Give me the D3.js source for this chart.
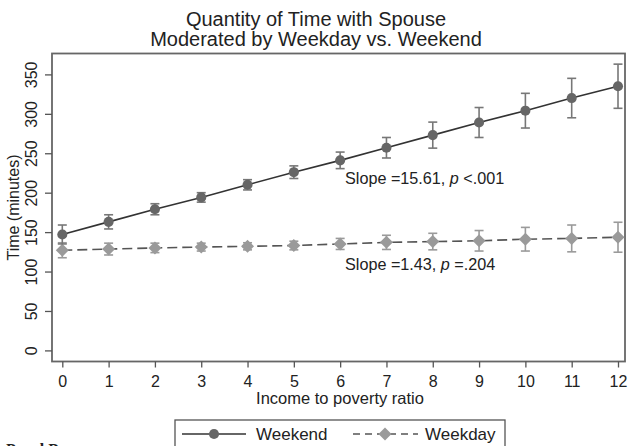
<!DOCTYPE html>
<html>
<head>
<meta charset="utf-8">
<script src="https://cdn.jsdelivr.net/npm/d3@7"></script>
<style>
  body { margin: 0; background: #fff; }
  svg { display: block; }
  text { font-family: "Liberation Sans", Arial, sans-serif; fill: #222; }
</style>
</head>
<body>
<script>
  // income-to-poverty ratio values
  const ratios = [0, 1, 2, 3, 4, 5, 6, 7, 8, 9, 10, 11, 12];

  // predicted minutes with spouse
  const weekend    = [147, 163, 179, 194, 210, 226, 241, 257, 273, 289, 304, 320, 335];
  const weekendErr = [12, 9, 7, 6, 6.5, 8, 10.5, 13, 16.5, 19, 22, 25, 28];
  const weekday    = [127, 128.5, 130, 131, 132, 133, 135, 137, 138, 139, 141, 142, 143.5];
  const weekdayErr = [9.5, 7.5, 6, 5, 4.5, 5.5, 7, 9, 10.5, 13, 15, 17, 19];

  const yTicks = [0, 50, 100, 150, 200, 250, 300, 350];

  const W = 629, H = 446;
  const frame = { left: 52, top: 53.5, right: 625, bottom: 361.5 };

  const x = d3.scaleLinear().domain([0, 12]).range([62.3, 618]);
  const y = d3.scaleLinear().domain([0, 350]).range([350.4, 74.4]);

  const svg = d3.select("body").append("svg")
    .attr("width", W)
    .attr("height", H);

  // title, two tight lines
  svg.append("text")
    .attr("x", 316).attr("y", 26)
    .attr("text-anchor", "middle")
    .style("font-size", "20px")
    .text("Quantity of Time with Spouse");
  svg.append("text")
    .attr("x", 316).attr("y", 46)
    .attr("text-anchor", "middle")
    .style("font-size", "20px")
    .text("Moderated by Weekday vs. Weekend");

  // plot frame
  svg.append("rect")
    .attr("x", frame.left).attr("y", frame.top)
    .attr("width", frame.right - frame.left)
    .attr("height", frame.bottom - frame.top)
    .attr("fill", "none")
    .attr("stroke", "#666")
    .attr("stroke-width", 1.8);

  // x axis
  const xAxis = svg.append("g")
    .attr("transform", `translate(0, ${frame.bottom})`)
    .call(d3.axisBottom(x).tickValues(ratios).tickSize(6).tickPadding(8).tickFormat(d3.format("d")));
  xAxis.select(".domain").remove();
  xAxis.selectAll("line").attr("stroke", "#555").attr("stroke-width", 1.3);
  xAxis.selectAll("text")
    .style("font-size", "16px")
    .style("font-family", "Liberation Sans, Arial, sans-serif")
    .attr("fill", "#222");

  // y axis (labels rotated like Stata)
  const yAxis = svg.append("g")
    .attr("transform", `translate(${frame.left}, 0)`)
    .call(d3.axisLeft(y).tickValues(yTicks).tickSize(7).tickFormat(d3.format("d")));
  yAxis.select(".domain").remove();
  yAxis.selectAll("line").attr("stroke", "#555").attr("stroke-width", 1.3);
  yAxis.selectAll("text")
    .attr("x", null).attr("dy", null)
    .attr("transform", "translate(-19, 0) rotate(-90)")
    .attr("text-anchor", "middle")
    .attr("dominant-baseline", "middle")
    .style("font-size", "16px")
    .style("font-family", "Liberation Sans, Arial, sans-serif")
    .attr("fill", "#222");

  // axis titles
  svg.append("text")
    .attr("transform", `translate(15, ${(frame.top + frame.bottom) / 2}) rotate(-90)`)
    .attr("text-anchor", "middle")
    .attr("dominant-baseline", "middle")
    .style("font-size", "16px")
    .text("Time (minutes)");
  svg.append("text")
    .attr("x", 340).attr("y", 404)
    .attr("text-anchor", "middle")
    .style("font-size", "16.5px")
    .text("Income to poverty ratio");

  const line = d3.line().x((d, i) => x(ratios[i])).y(d => y(d));

  function drawSeries(vals, errs, barColor, lineColor, dash, marker, markColor) {
    const g = svg.append("g");
    // error bars
    vals.forEach((v, i) => {
      const cx = x(ratios[i]);
      const yt = y(v + errs[i]), yb = y(v - errs[i]);
      g.append("line").attr("x1", cx).attr("x2", cx).attr("y1", yt).attr("y2", yb)
        .attr("stroke", barColor).attr("stroke-width", 1.6);
      [yt, yb].forEach(yy => {
        g.append("line").attr("x1", cx - 4.5).attr("x2", cx + 4.5).attr("y1", yy).attr("y2", yy)
          .attr("stroke", barColor).attr("stroke-width", 1.6);
      });
    });
    g.append("path")
      .datum(vals)
      .attr("d", line)
      .attr("fill", "none")
      .attr("stroke", lineColor)
      .attr("stroke-width", 1.6)
      .attr("stroke-dasharray", dash);
    g.selectAll(".m")
      .data(vals)
      .join("path")
      .attr("transform", (d, i) => `translate(${x(ratios[i])}, ${y(d)})`)
      .attr("d", marker)
      .attr("fill", markColor);
  }

  const circle = d3.symbol().type(d3.symbolCircle).size(80)();
  const diamond = "M0,-6.5L6.5,0L0,6.5L-6.5,0Z";

  drawSeries(weekday, weekdayErr, "#9a9a9a", "#555", "10,5", diamond, "#9a9a9a");
  drawSeries(weekend, weekendErr, "#777", "#333", null, circle, "#666");

  // slope annotations
  const s1 = svg.append("text").attr("x", 345).attr("y", 184).style("font-size", "16.2px");
  s1.append("tspan").text("Slope =15.61, ");
  s1.append("tspan").style("font-style", "italic").text("p");
  s1.append("tspan").text(" <.001");
  const s2 = svg.append("text").attr("x", 345).attr("y", 270).style("font-size", "16.2px");
  s2.append("tspan").text("Slope =1.43, ");
  s2.append("tspan").style("font-style", "italic").text("p");
  s2.append("tspan").text(" =.204");

  // legend box (runs off the bottom edge)
  const lg = svg.append("g");
  lg.append("rect")
    .attr("x", 175).attr("y", 420)
    .attr("width", 330).attr("height", 40)
    .attr("fill", "#fff")
    .attr("stroke", "#555")
    .attr("stroke-width", 1.3);
  lg.append("line").attr("x1", 182).attr("x2", 246).attr("y1", 434).attr("y2", 434)
    .attr("stroke", "#333").attr("stroke-width", 1.6);
  lg.append("path").attr("transform", "translate(214, 434)").attr("d", circle).attr("fill", "#666");
  lg.append("text").attr("x", 256).attr("y", 440).style("font-size", "17px").text("Weekend");
  lg.append("line").attr("x1", 353).attr("x2", 418).attr("y1", 434).attr("y2", 434)
    .attr("stroke", "#555").attr("stroke-width", 1.6).attr("stroke-dasharray", "7,5");
  lg.append("path").attr("transform", "translate(385, 434)").attr("d", diamond).attr("fill", "#9a9a9a");
  lg.append("text").attr("x", 425).attr("y", 440).style("font-size", "17px").text("Weekday");

  // caption cut off at the bottom of the image
  svg.append("text")
    .attr("x", 6).attr("y", 455)
    .style("font-family", "Liberation Serif, Times New Roman, serif")
    .style("font-size", "16px")
    .style("font-weight", "bold")
    .text("Panel B");
</script>
</body>
</html>
